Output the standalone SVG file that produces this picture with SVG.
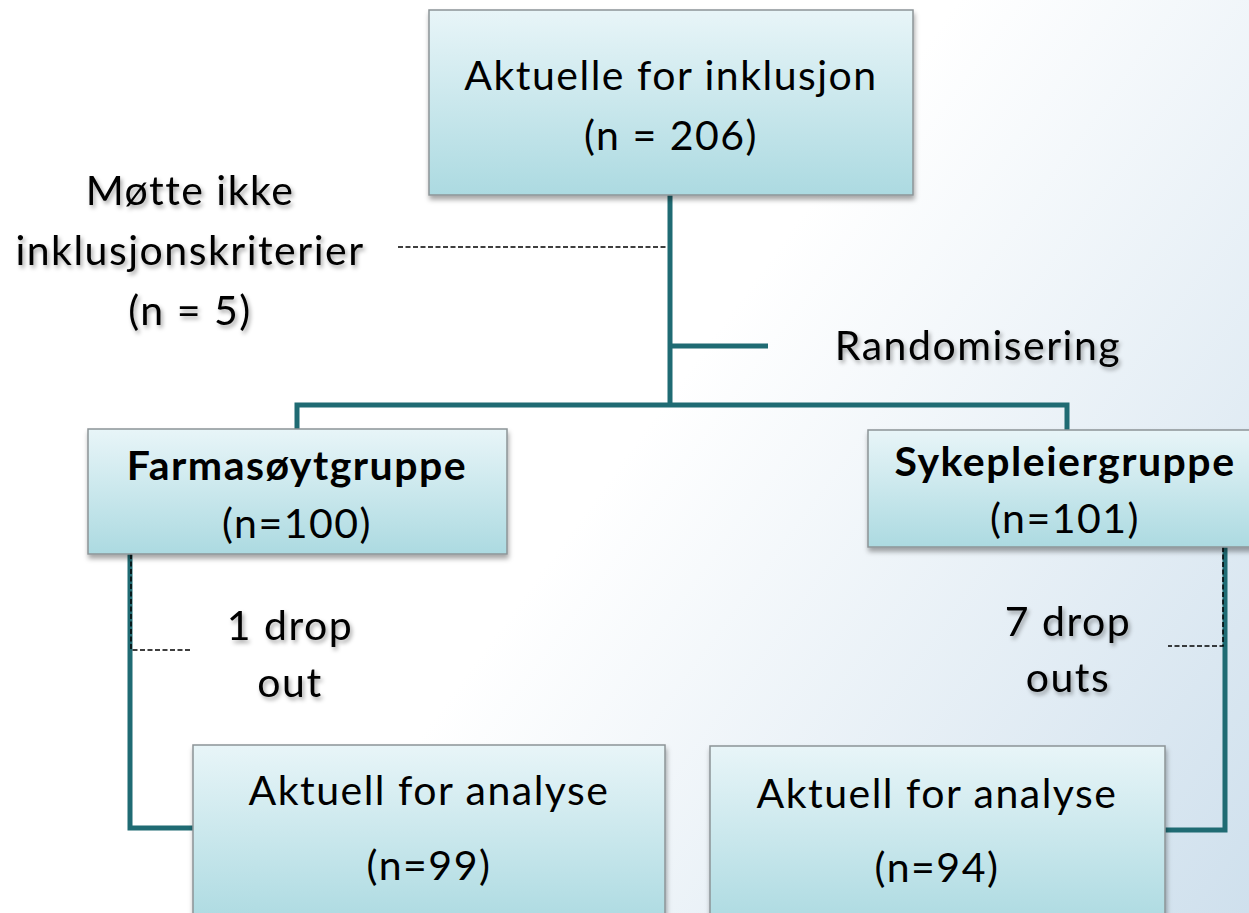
<svg xmlns="http://www.w3.org/2000/svg" width="1249" height="913" viewBox="0 0 1249 913">
<defs>
<linearGradient id="bg" x1="0" y1="0" x2="1249" y2="913" gradientUnits="userSpaceOnUse">
<stop offset="0" stop-color="#ffffff"/>
<stop offset="0.5" stop-color="#ffffff"/>
<stop offset="1" stop-color="#cfe0ed"/>
</linearGradient>
<linearGradient id="box" x1="0" y1="0" x2="0" y2="1">
<stop offset="0" stop-color="#e8f5f8"/>
<stop offset="1" stop-color="#acdae1"/>
</linearGradient>
<filter id="bshadow" x="-10%" y="-10%" width="120%" height="130%">
<feDropShadow dx="1" dy="4" stdDeviation="2.5" flood-color="#000" flood-opacity="0.35"/>
</filter>
<filter id="tshadow" x="-10%" y="-20%" width="120%" height="150%">
<feDropShadow dx="2" dy="3" stdDeviation="2" flood-color="#000" flood-opacity="0.35"/>
</filter>
</defs>
<style>
.box{fill:url(#box);stroke:#8c9496;stroke-width:1.5;filter:url(#bshadow)}
.t{font-family:Lato,"Open Sans","Liberation Sans",sans-serif;font-size:41px;letter-spacing:1.5px;fill:#000;text-anchor:middle}
.b{font-weight:bold}
.free{filter:url(#tshadow)}
.ln{fill:none;stroke:#1f6b73;stroke-width:5;stroke-linejoin:miter}
.ds{fill:none;stroke:#000;stroke-width:1.5;stroke-dasharray:5 2.5}
</style>
<rect x="0" y="0" width="1249" height="913" fill="url(#bg)"/>
<g id="connectors">
<path class="ln" d="M670 195 V405"/>
<path class="ln" d="M670 346 H768"/>
<path class="ln" d="M297 432 V405 H1067 V432"/>
<path class="ln" d="M130 554 V828 H195"/>
<path class="ln" d="M1225 547 V830 H1165"/>
<path class="ds" d="M398 247 H668"/>
<path class="ds" d="M131 554 V650 H192"/>
<path class="ds" d="M1223 547 V646 H1168"/>
</g>
<g id="top">
<rect class="box" x="429" y="10" width="484" height="185"/>
<text class="t" x="671" y="90">Aktuelle for inklusjon</text>
<text class="t" x="671" y="150">(n = 206)</text>
</g>
<g id="excluded" class="free">
<text class="t" x="190" y="205">Møtte ikke</text>
<text class="t" x="190" y="265">inklusjonskriterier</text>
<text class="t" x="190" y="325">(n = 5)</text>
</g>
<g id="random" class="free">
<text class="t" x="978" y="360">Randomisering</text>
</g>
<g id="farm">
<rect class="box" x="88" y="429" width="419" height="125"/>
<text class="t b" x="297" y="480">Farmasøytgruppe</text>
<text class="t" x="297" y="538">(n=100)</text>
</g>
<g id="syke">
<rect class="box" x="868" y="430" width="390" height="117"/>
<text class="t b" x="1065" y="476">Sykepleiergruppe</text>
<text class="t" x="1065" y="533">(n=101)</text>
</g>
<g id="drop1" class="free">
<text class="t" x="290" y="640">1 drop</text>
<text class="t" x="290" y="697">out</text>
</g>
<g id="drop7" class="free">
<text class="t" x="1068" y="636">7 drop</text>
<text class="t" x="1068" y="692">outs</text>
</g>
<g id="an1">
<rect class="box" x="193" y="745" width="472" height="180"/>
<text class="t" x="429" y="805">Aktuell for analyse</text>
<text class="t" x="429" y="880">(n=99)</text>
</g>
<g id="an2">
<rect class="box" x="710" y="746" width="455" height="180"/>
<text class="t" x="937" y="808">Aktuell for analyse</text>
<text class="t" x="937" y="882">(n=94)</text>
</g>
</svg>
